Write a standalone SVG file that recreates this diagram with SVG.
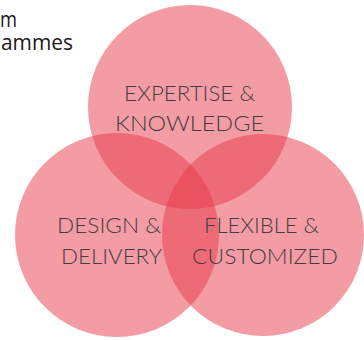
<svg xmlns="http://www.w3.org/2000/svg" width="364" height="340" viewBox="0 0 364 340">
<style>
.c{fill:#e8394a;fill-opacity:0.5}
.t{font-family:Lato,"Liberation Sans",sans-serif;font-weight:300;font-size:22px;fill:#463c3f}
.h{font-family:"Open Sans","Liberation Sans",sans-serif;font-size:22px;fill:#1a1a1a}
</style>
<rect width="364" height="340" fill="#fff"/>
<g id="title">
<text class="h" x="0" y="27" textLength="17" lengthAdjust="spacingAndGlyphs">m</text>
<text class="h" x="1" y="50" textLength="72" lengthAdjust="spacingAndGlyphs">ammes</text>
</g>
<g id="connectors"/>
<g id="expertise">
<circle class="c" cx="190" cy="107" r="102"/>
<text class="t" x="124" y="101" textLength="131" lengthAdjust="spacingAndGlyphs">EXPERTISE &amp;</text>
<text class="t" x="115" y="131" textLength="149" lengthAdjust="spacingAndGlyphs">KNOWLEDGE</text>
</g>
<g id="design">
<circle class="c" cx="117" cy="235" r="102"/>
<text class="t" x="57" y="233" textLength="104" lengthAdjust="spacingAndGlyphs">DESIGN &amp;</text>
<text class="t" x="61" y="264" textLength="101" lengthAdjust="spacingAndGlyphs">DELIVERY</text>
</g>
<g id="flexible">
<circle class="c" cx="263" cy="235" r="101"/>
<text class="t" x="204" y="233" textLength="115" lengthAdjust="spacingAndGlyphs">FLEXIBLE &amp;</text>
<text class="t" x="192" y="264" textLength="146" lengthAdjust="spacingAndGlyphs">CUSTOMIZED</text>
</g>
</svg>
